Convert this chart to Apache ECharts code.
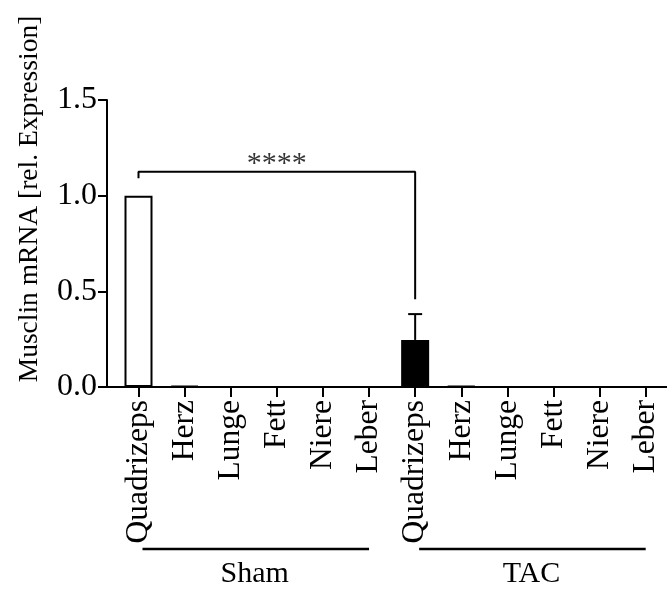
<!DOCTYPE html>
<html>
<head>
<meta charset="utf-8">
<script src="https://cdn.jsdelivr.net/npm/echarts@6/dist/echarts.min.js"></script>
<style>
  html, body { margin: 0; padding: 0; background: #fff; }
  #main { width: 667px; height: 589px; }
</style>
</head>
<body>
<div id="main"></div>
<script>
// categories (Sham group then TAC group)
var categories = ['Quadrizeps', 'Herz', 'Lunge', 'Fett', 'Niere', 'Leber',
                  'Quadrizeps', 'Herz', 'Lunge', 'Fett', 'Niere', 'Leber'];
var groups = ['Sham', 'TAC'];
// rel. expression
var shamValues = [1.0, 0.006, 0, 0, 0, 0];
var tacValues = [0.246, 0.004, 0, 0, 0, 0];
// upper error (mean + SD) for TAC Quadrizeps
var errorIndex = [6];
var errorTop = [0.381];
// significance bracket
var bracketX = [0, 0, 6, 6];
var bracketY = [1.091, 1.125, 1.125, 0.458];
var starsLabel = '****';
var yTicks = [0, 0.5, 1.0, 1.5];

var FONT = "'Liberation Serif', 'Times New Roman', serif";
var chart = echarts.init(document.getElementById('main'));

var barData = [];
shamValues.forEach(function (v) {
  barData.push({ value: v, itemStyle: { color: '#fff', borderColor: '#000', borderWidth: 2 } });
});
tacValues.forEach(function (v) {
  barData.push({ value: v, itemStyle: { color: '#000', borderColor: '#000', borderWidth: 2 } });
});

var bracketData = bracketX.map(function (x, i) { return [x, bracketY[i]]; });
var errData = errorIndex.map(function (x, i) { return [x, barData[x].value, errorTop[i]]; });

chart.setOption({
  animation: false,
  grid: [
    { left: 107, right: 0, top: 100, bottom: 202 },
    { left: 138.5, width: 507.2, top: 100, bottom: 202 }
  ],
  xAxis: [
    {
      gridIndex: 0, type: 'value', min: 0, max: 1,
      axisLine: { show: true, lineStyle: { color: '#000', width: 2 } },
      axisTick: { show: false }, axisLabel: { show: false }, splitLine: { show: false }
    },
    {
      gridIndex: 1, type: 'category', data: categories, boundaryGap: false,
      axisLine: { show: false },
      axisTick: { show: true, length: 10, lineStyle: { color: '#000', width: 2 } },
      axisLabel: { rotate: 90, margin: 13, interval: 0, color: '#000', fontSize: 31.5, fontFamily: FONT },
      splitLine: { show: false }
    }
  ],
  yAxis: [
    {
      gridIndex: 0, type: 'value', min: yTicks[0], max: yTicks[yTicks.length - 1], interval: 0.5,
      axisLine: { show: true, lineStyle: { color: '#000', width: 2 } },
      axisTick: { show: true, length: 9, lineStyle: { color: '#000', width: 2 } },
      axisLabel: {
        margin: 10, color: '#000', fontSize: 32, fontFamily: FONT,
        formatter: function (v) { return v.toFixed(1); }
      },
      splitLine: { show: false }
    },
    {
      gridIndex: 1, type: 'value', min: 0, max: 1.5, show: false
    }
  ],
  series: [
    {
      type: 'bar', xAxisIndex: 1, yAxisIndex: 1, data: barData,
      barWidth: 28, z: 3
    },
    {
      type: 'custom', xAxisIndex: 1, yAxisIndex: 1, data: errData, z: 2,
      renderItem: function (params, api) {
        var top = api.coord([api.value(0), api.value(2)]);
        var base = api.coord([api.value(0), api.value(1)]);
        var cap = 7;
        return {
          type: 'group',
          children: [
            { type: 'line', shape: { x1: top[0], y1: top[1], x2: base[0], y2: base[1] },
              style: { stroke: '#000', lineWidth: 2 } },
            { type: 'line', shape: { x1: top[0] - cap, y1: top[1], x2: top[0] + cap, y2: top[1] },
              style: { stroke: '#000', lineWidth: 2 } }
          ]
        };
      }
    },
    {
      type: 'line', xAxisIndex: 1, yAxisIndex: 1, data: bracketData,
      symbol: 'none', lineStyle: { color: '#000', width: 2 }, z: 4
    },
    {
      type: 'scatter', xAxisIndex: 1, yAxisIndex: 1, data: [[3, bracketY[1]]],
      symbolSize: 0,
      label: {
        show: true, position: 'top', distance: 0, offset: [0, 7],
        formatter: starsLabel, color: '#000', fontSize: 30, fontFamily: FONT
      }
    }
  ]
});

// axis title, group lines and names under the category labels
var groupY = 549;
var g = [{
  type: 'text', id: 'ytitle', x: 30, y: 199, rotation: Math.PI / 2,
  style: {
    text: 'Musclin mRNA [rel. Expression]', fill: '#000',
    font: '27.5px ' + FONT, textAlign: 'center', textVerticalAlign: 'middle'
  }
}];
groups.forEach(function (name, i) {
  var x0 = chart.convertToPixel({ xAxisIndex: 1 }, i * 6);
  var x1 = chart.convertToPixel({ xAxisIndex: 1 }, i * 6 + 5);
  g.push({
    type: 'line', id: 'gline' + i, shape: { x1: x0 + 4, y1: groupY, x2: x1, y2: groupY },
    style: { stroke: '#000', lineWidth: 2.5 }
  });
  g.push({
    type: 'text', id: 'gname' + i, x: (x0 + x1) / 2 + 1, y: 574,
    style: { text: name, fill: '#000', font: '30px ' + FONT, textAlign: 'center', textVerticalAlign: 'middle' }
  });
});
chart.setOption({ graphic: g });
</script>
</body>
</html>
